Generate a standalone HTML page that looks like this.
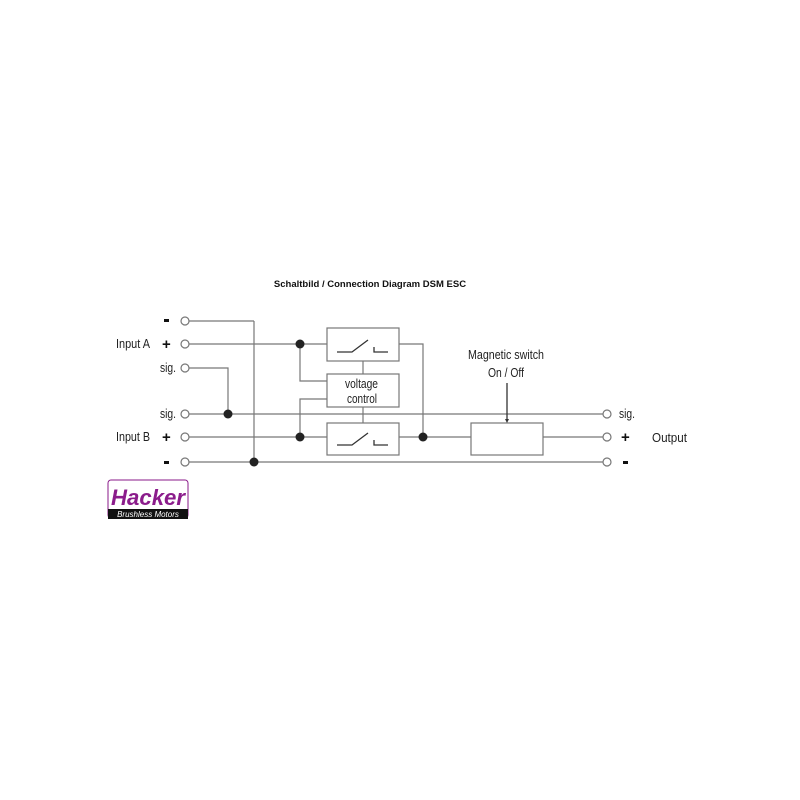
<!DOCTYPE html>
<html><head><style>
html,body{margin:0;padding:0;background:#fff;width:800px;height:800px;overflow:hidden}
svg{display:block}
.t{font-family:"Liberation Sans Narrow","Liberation Sans",sans-serif;font-size:12.5px;fill:#222}
.b{font-family:"Liberation Sans",sans-serif;font-weight:bold;fill:#111}
</style></head><body>
<svg width="800" height="800" viewBox="0 0 800 800" xmlns="http://www.w3.org/2000/svg">
<text x="370" y="287" text-anchor="middle" class="b" font-size="9.5">Schaltbild / Connection Diagram  DSM ESC</text>
<g stroke="#777" stroke-width="1.2" fill="none">
<line x1="189" y1="321" x2="254" y2="321"/><line x1="254" y1="321" x2="254" y2="462"/>
<line x1="189" y1="344" x2="327" y2="344"/>
<polyline points="189,368 228,368 228,414"/>
<line x1="189" y1="414" x2="603" y2="414"/>
<line x1="189" y1="437" x2="327" y2="437"/>
<line x1="189" y1="462" x2="603" y2="462"/>
<polyline points="300,344 300,381 327,381"/>
<polyline points="300,437 300,399 327,399"/>
<line x1="363" y1="361" x2="363" y2="374"/><line x1="363" y1="407" x2="363" y2="423"/>
<polyline points="399,344 423,344 423,437"/>
<line x1="399" y1="437" x2="471" y2="437"/>
<line x1="543" y1="437" x2="603" y2="437"/>
<rect x="327" y="328" width="72" height="33"/>
<rect x="327" y="374" width="72" height="33"/>
<rect x="327" y="423" width="72" height="32"/>
<rect x="471" y="423" width="72" height="32"/>
<circle cx="185" cy="321" r="4" fill="#fff"/><circle cx="185" cy="344" r="4" fill="#fff"/><circle cx="185" cy="368" r="4" fill="#fff"/>
<circle cx="185" cy="414" r="4" fill="#fff"/><circle cx="185" cy="437" r="4" fill="#fff"/><circle cx="185" cy="462" r="4" fill="#fff"/>
<circle cx="607" cy="414" r="4" fill="#fff"/><circle cx="607" cy="437" r="4" fill="#fff"/><circle cx="607" cy="462" r="4" fill="#fff"/>
</g>
<g stroke="#333" stroke-width="1.3" fill="none">
<polyline points="337,352 352,352 368,340"/><polyline points="374,347 374,352 388,352"/>
<polyline points="337,445 352,445 368,433"/><polyline points="374,440 374,445 388,445"/>
<line x1="507" y1="383" x2="507" y2="421"/>
</g>
<polygon points="505,419 509,419 507,423" fill="#333"/>
<g fill="#222"><circle cx="300" cy="344" r="4.5"/><circle cx="300" cy="437" r="4.5"/><circle cx="228" cy="414" r="4.5"/><circle cx="254" cy="462" r="4.5"/><circle cx="423" cy="437" r="4.5"/></g>
<text x="345" y="388" class="t" font-size="11.5" textLength="33" lengthAdjust="spacingAndGlyphs">voltage</text>
<text x="347" y="403" class="t" font-size="11.5" textLength="30" lengthAdjust="spacingAndGlyphs">control</text>
<text x="468" y="359" class="t" textLength="76" lengthAdjust="spacingAndGlyphs">Magnetic switch</text>
<text x="488" y="377" class="t" textLength="36" lengthAdjust="spacingAndGlyphs">On / Off</text>
<text x="116" y="348" class="t" textLength="34" lengthAdjust="spacingAndGlyphs">Input A</text>
<text x="116" y="441" class="t" textLength="34" lengthAdjust="spacingAndGlyphs">Input B</text>
<text x="160" y="372" class="t" textLength="16" lengthAdjust="spacingAndGlyphs">sig.</text>
<text x="160" y="418" class="t" textLength="16" lengthAdjust="spacingAndGlyphs">sig.</text>
<g class="b" font-size="15"><text x="162" y="349">+</text><text x="162" y="442">+</text><text x="621" y="442">+</text></g>
<g fill="#111"><rect x="164" y="319" width="5" height="3"/><rect x="164" y="461" width="5" height="3"/><rect x="623" y="461" width="5" height="3"/></g>
<text x="619" y="418" class="t" textLength="16" lengthAdjust="spacingAndGlyphs">sig.</text>
<text x="652" y="442" class="t" textLength="35" lengthAdjust="spacingAndGlyphs">Output</text>
<rect x="108" y="480" width="80" height="38" rx="3" fill="#fff" stroke="#8a1a8a" stroke-width="1"/>
<rect x="108" y="509" width="80" height="10" fill="#111"/>
<text x="148" y="505" text-anchor="middle" font-family="Liberation Sans,sans-serif" font-weight="bold" font-style="italic" font-size="22" fill="#8b1c8b" textLength="74" lengthAdjust="spacingAndGlyphs">Hacker</text>
<text x="148" y="517" text-anchor="middle" font-family="Liberation Sans,sans-serif" font-style="italic" font-size="8" fill="#fff">Brushless Motors</text>
</svg>
</body></html>
